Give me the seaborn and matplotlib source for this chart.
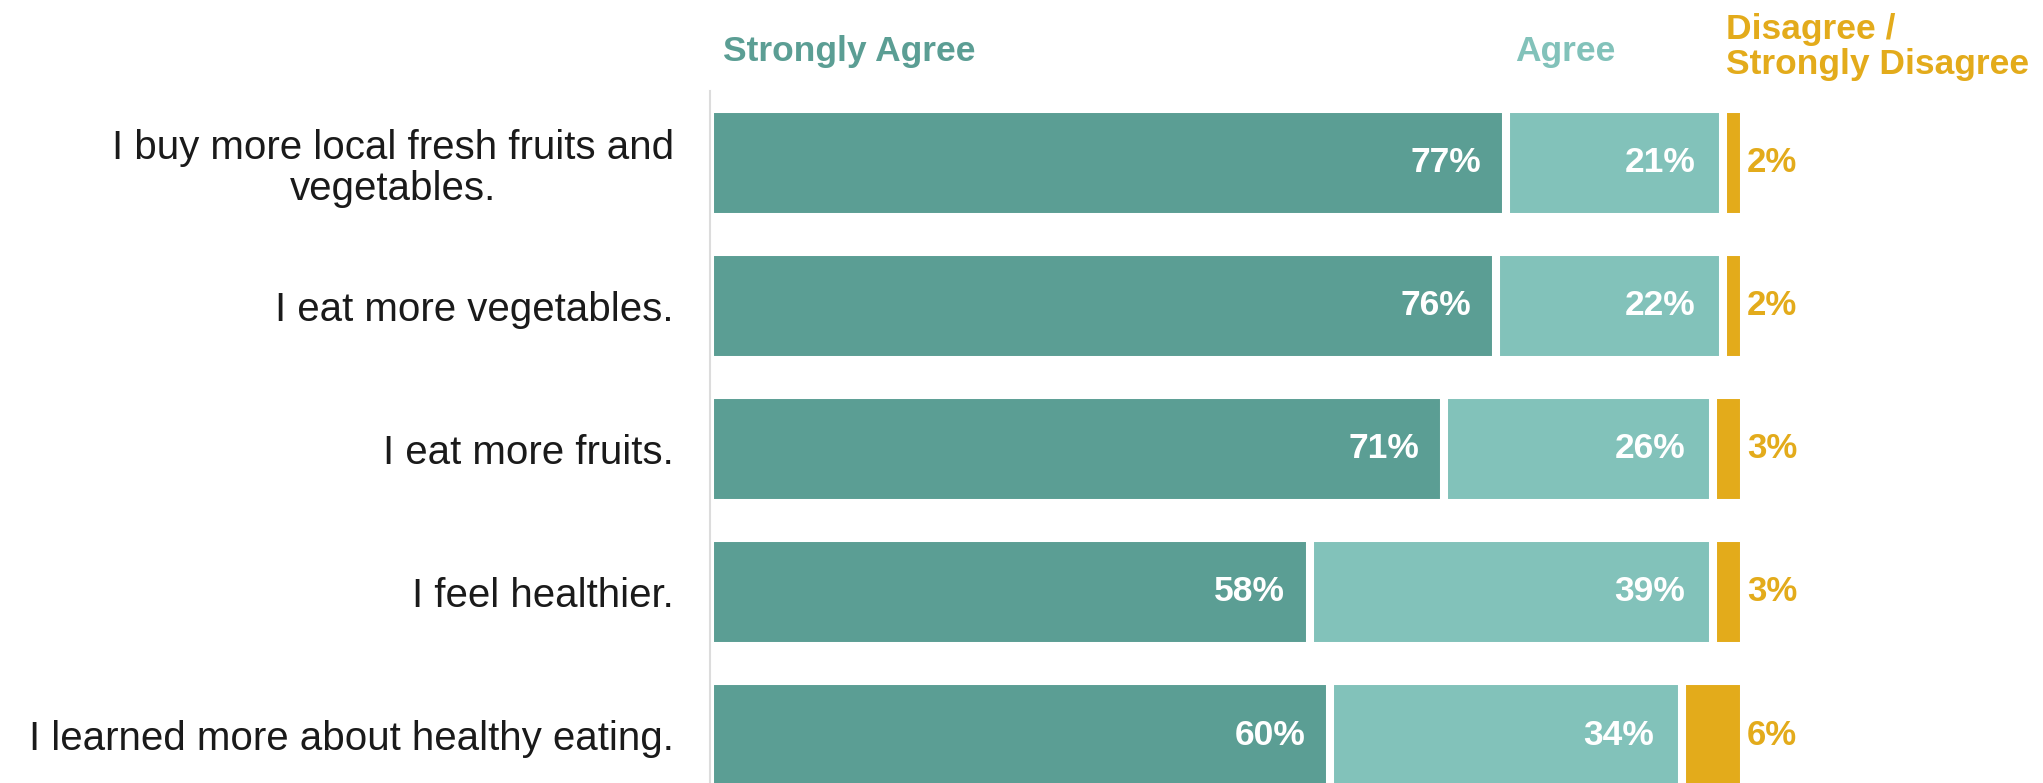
import matplotlib
matplotlib.use("Agg")
import matplotlib.pyplot as plt
import matplotlib.transforms as mtransforms
import numpy as np
import pandas as pd
import seaborn as sns

# ── data ──────────────────────────────────────────────────────────────────────
statements = [
    "I buy more local fresh fruits and\nvegetables.",
    "I eat more vegetables.",
    "I eat more fruits.",
    "I feel healthier.",
    "I learned more about healthy eating.",
]
strongly_agree = [77, 76, 71, 58, 60]
agree = [21, 22, 26, 39, 34]
disagree = [2, 2, 3, 3, 6]

DARK = "#5b9e94"
LIGHT = "#82c2ba"
GOLD = "#e3ab1b"

sns.set_theme(style="white")
plt.rcParams["font.family"] = ["Liberation Sans", "DejaVu Sans"]

df = pd.DataFrame({
    "statement": statements,
    "sa": strongly_agree,
    "a": agree,
    "d": disagree,
})
df["sa_a"] = df["sa"] + df["a"]
df["total"] = df["sa_a"] + df["d"]

fig = plt.figure(figsize=(20.43, 7.83), dpi=100)
ax = fig.add_axes([0.3475, 0.0, 0.5061, 0.8838])

# stacked bars: draw cumulative totals, widest first
bar_kw = dict(y="statement", orient="h", width=0.755, saturation=1,
              edgecolor="white", linewidth=5.8, errorbar=None, ax=ax)
sns.barplot(data=df, x="total", color=GOLD, **bar_kw)
sns.barplot(data=df, x="sa_a", color=LIGHT, **bar_kw)
sns.barplot(data=df, x="sa", color=DARK, **bar_kw)

ax.set_xlim(0, 100)
ax.set_ylim(4.335, -0.5)
ax.set_xlabel("")
ax.set_ylabel("")
ax.set_xticks([])
ax.tick_params(axis="y", length=0, pad=26, labelsize=29, labelcolor="#1a1a1a")
for lab in ax.get_yticklabels():
    lab.set_multialignment("center")
    lab.set_linespacing(1.12)

for side in ["top", "right", "bottom"]:
    ax.spines[side].set_visible(False)
ax.spines["left"].set_color("#dcdcdc")
ax.spines["left"].set_linewidth(1.5)

# value labels
for i, row in df.iterrows():
    ax.text(row["sa"] - 2.4, i, f"{row['sa']}%", ha="right", va="center",
            color="white", fontsize=25.5, fontweight="bold")
    ax.text(row["sa_a"] - 2.7, i, f"{row['a']}%", ha="right", va="center",
            color="white", fontsize=25.5, fontweight="bold")
    ax.text(row["total"] + 0.3, i, f"{row['d']}%", ha="left", va="center",
            color=GOLD, fontsize=25, fontweight="bold")

# column headers
trans = mtransforms.blended_transform_factory(ax.transData, fig.transFigure)
ax.text(1.3, 0.934, "Strongly Agree", transform=trans, ha="left", va="center",
        color=DARK, fontsize=25.5, fontweight="bold")
ax.text(77.9, 0.934, "Agree", transform=trans, ha="left", va="center",
        color=LIGHT, fontsize=25.5, fontweight="bold")
ax.text(98.3, 0.940, "Disagree /\nStrongly Disagree", transform=trans,
        ha="left", va="center", color=GOLD, fontsize=25.5, fontweight="bold",
        linespacing=1.07)

fig.savefig("out.png", dpi=100)
plt.close()
